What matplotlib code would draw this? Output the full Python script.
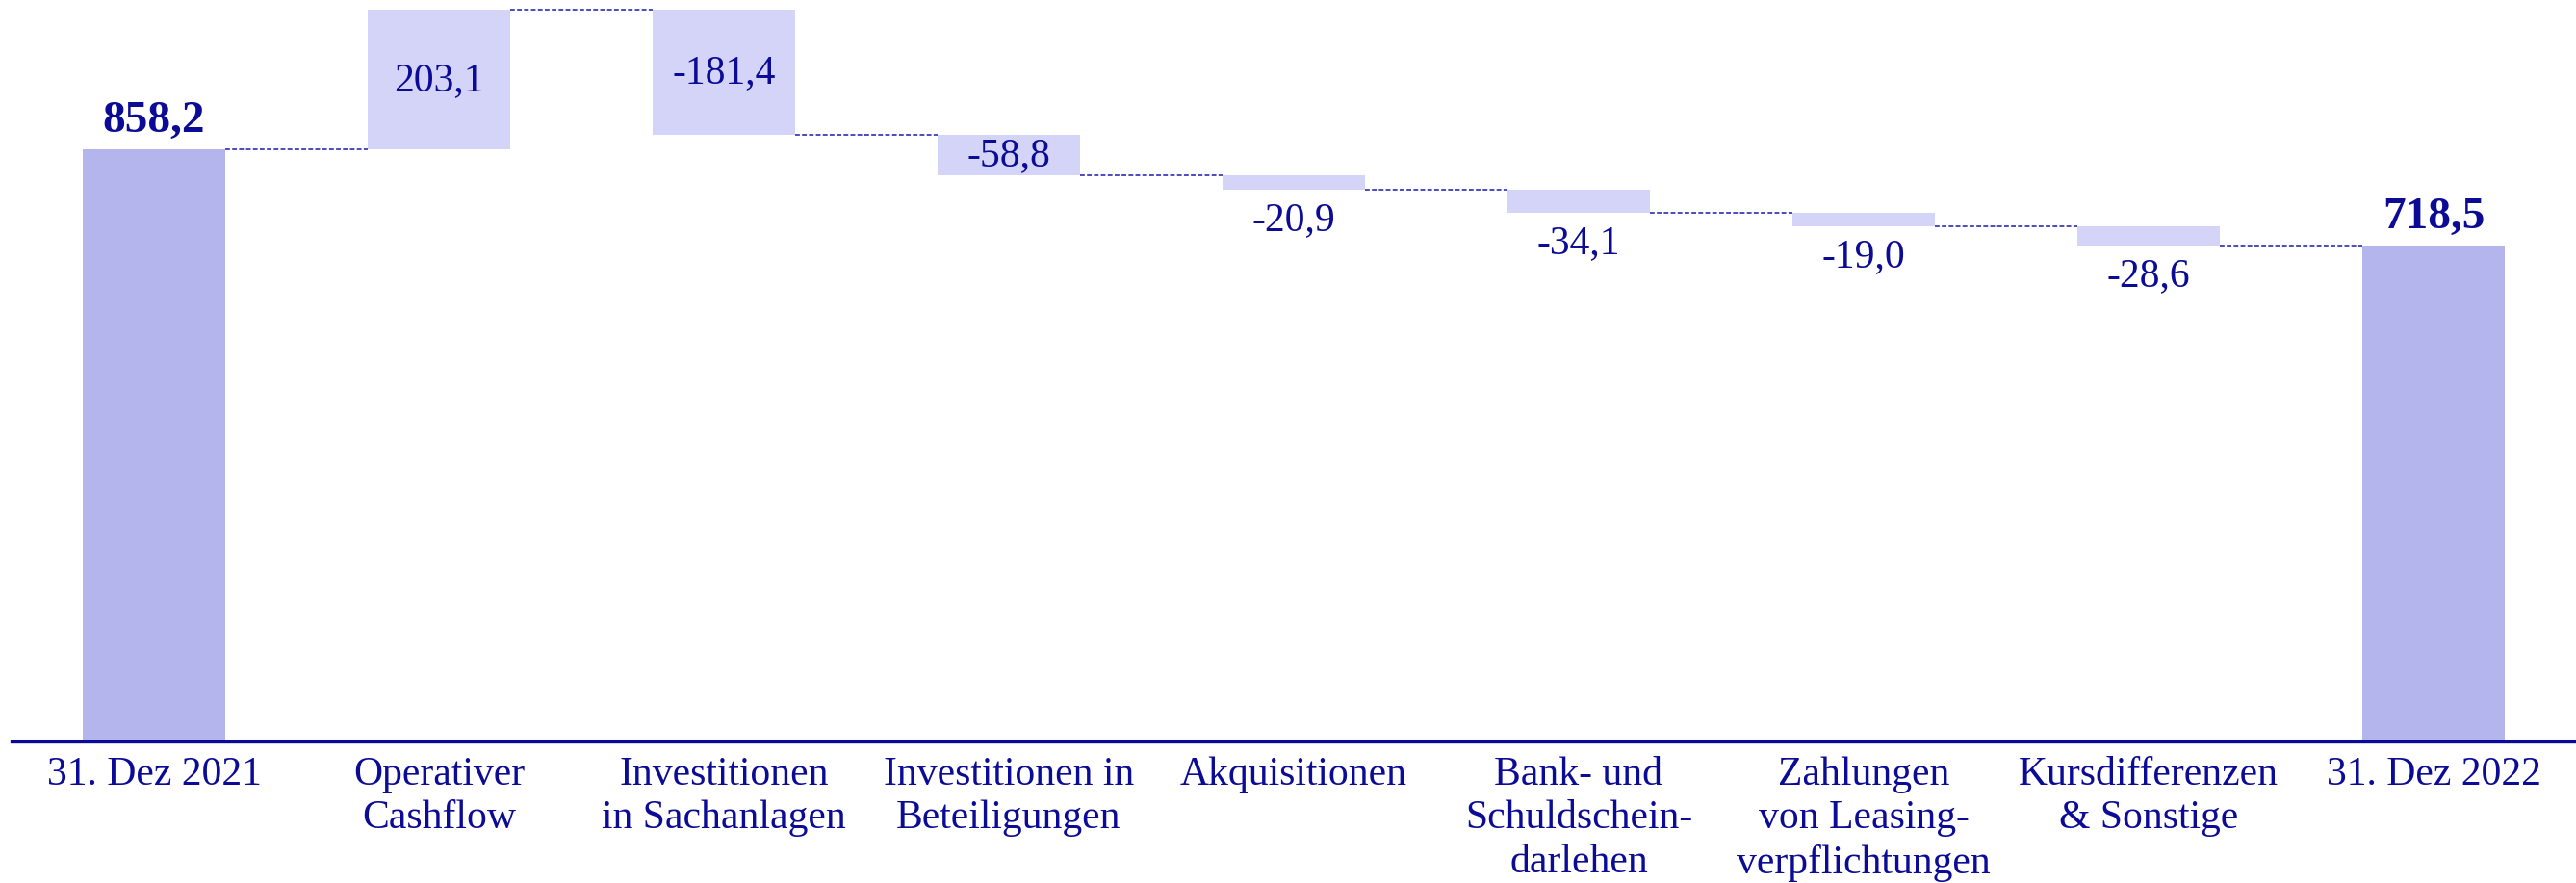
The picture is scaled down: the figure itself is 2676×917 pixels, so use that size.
import matplotlib
matplotlib.use("Agg")
import matplotlib.pyplot as plt
import numpy as np

categories = ["31. Dez 2021", "Operativer\nCashflow", "Investitionen\nin Sachanlagen",
              "Investitionen in\nBeteiligungen", "Akquisitionen", "Bank- und\nSchuldschein-\ndarlehen",
              "Zahlungen\nvon Leasing-\nverpflichtungen", "Kursdifferenzen\n& Sonstige", "31. Dez 2022"]
start_value = 858.2
deltas = [203.1, -181.4, -58.8, -20.9, -34.1, -19.0, -28.6]
end_value = 718.5

TOTAL_C = "#B5B5EE"
DELTA_C = "#D4D4F9"
TEXT_C = "#0B0B96"
AXIS_C = "#0A0A9A"
CONN_C = "#4B4BC0"

plt.rcParams['font.family'] = ['Liberation Serif', 'DejaVu Serif']

fig = plt.figure(figsize=(26.76, 9.17), dpi=100)
ax = fig.add_axes([12/2676, 1 - 770/917, 1 - 12/2676, 770/917])

x = np.arange(len(categories))
w = 0.5

# totals
ax.bar(x[0], start_value, width=w, color=TOTAL_C, linewidth=0)
ax.bar(x[-1], end_value, width=w, color=TOTAL_C, linewidth=0)

levels = [start_value]
cur = start_value
for i, d in enumerate(deltas):
    bottom = cur if d >= 0 else cur + d
    ax.bar(x[i + 1], abs(d), bottom=bottom, width=w, color=DELTA_C, linewidth=0)
    cur += d
    levels.append(cur)

# connectors
for i, lvl in enumerate(levels):
    ax.plot([x[i] + w / 2, x[i + 1] - w / 2], [lvl, lvl], color=CONN_C,
            linestyle=(0, (2.5, 1.2)), linewidth=1.4)

def fmt(v):
    return f"{v:.1f}".replace(".", ",")

# total labels
for xi, v in [(x[0], start_value), (x[-1], end_value)]:
    ax.annotate(fmt(v), (xi, v), xytext=(0, 21), textcoords="offset points",
                ha="center", va="center", fontsize=34, fontweight="bold", color=TEXT_C)

# delta labels
cur = start_value
for i, d in enumerate(deltas):
    top = max(cur, cur + d)
    bot = min(cur, cur + d)
    if abs(d) > 50:
        ax.annotate(fmt(d), (x[i + 1], (top + bot) / 2), xytext=(0, -1), textcoords="offset points",
                    ha="center", va="center", fontsize=30, color=TEXT_C)
    else:
        ax.annotate(fmt(d), (x[i + 1], bot), xytext=(0, -23), textcoords="offset points",
                    ha="center", va="center", fontsize=30, color=TEXT_C)
    cur += d

ax.set_xlim(-0.5, 8.5)
ax.set_ylim(0, 1075)
for s in ["top", "right", "left"]:
    ax.spines[s].set_visible(False)
ax.spines["bottom"].set_color(AXIS_C)
ax.spines["bottom"].set_linewidth(2.4)
ax.set_yticks([])
ax.set_xticks(x)
ax.set_xticklabels(categories, fontsize=30, color=TEXT_C, linespacing=1.24)
ax.tick_params(axis="x", length=0, pad=11)

fig.savefig("out.png", dpi=100)
